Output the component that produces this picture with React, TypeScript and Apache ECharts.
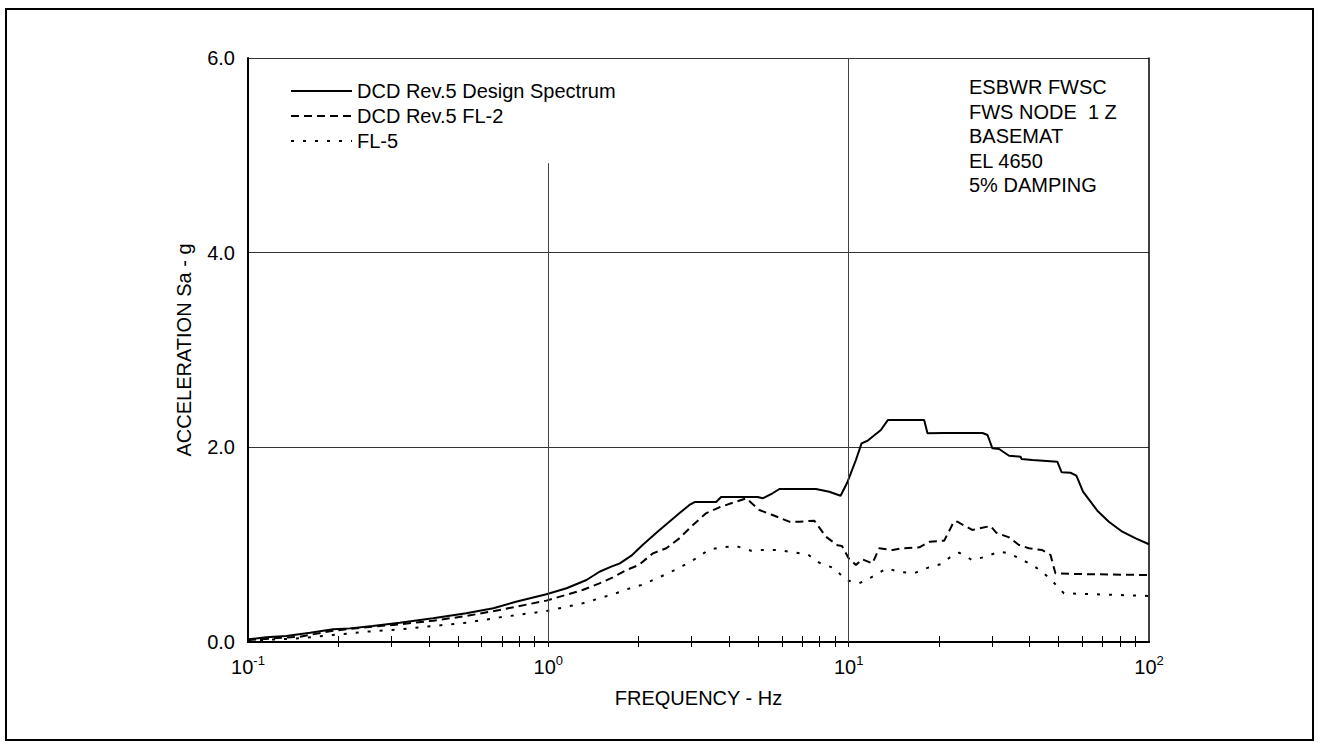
import React, { useEffect, useRef } from "react";
import * as echarts from "echarts";

const FONT = "'Liberation Sans', Arial, sans-serif";

const designFreq = [0.1, 0.115, 0.134, 0.161, 0.192, 0.218, 0.26, 0.32, 0.413, 0.533, 0.656, 0.78, 0.985, 1.15, 1.34, 1.48, 1.62, 1.73, 1.89, 2.06, 2.31, 2.73, 2.95, 3.07, 3.62, 3.76, 4.98, 5.17, 5.58, 5.88, 7.78, 8.62, 9.4, 9.92, 10.57, 11.04, 11.56, 12.8, 13.5, 17.84, 18.3, 20.8, 27.9, 29.0, 30.1, 31.7, 34.2, 37.4, 37.6, 40.9, 49.5, 51.2, 54.8, 57.3, 60.3, 67.3, 73.5, 81.5, 90.3, 100];
const designAcc = [0.028, 0.048, 0.062, 0.096, 0.13, 0.14, 0.164, 0.198, 0.243, 0.295, 0.346, 0.414, 0.49, 0.552, 0.637, 0.722, 0.774, 0.808, 0.887, 0.997, 1.133, 1.322, 1.408, 1.438, 1.438, 1.49, 1.49, 1.476, 1.528, 1.572, 1.572, 1.544, 1.503, 1.647, 1.87, 2.04, 2.068, 2.178, 2.28, 2.28, 2.144, 2.147, 2.147, 2.127, 1.99, 1.983, 1.914, 1.904, 1.88, 1.87, 1.853, 1.743, 1.739, 1.709, 1.544, 1.349, 1.236, 1.133, 1.065, 1.004];

const fl2Freq = [0.1, 0.149, 0.192, 0.248, 0.32, 0.413, 0.533, 0.688, 0.985, 1.3, 1.48, 1.64, 1.82, 2.0, 2.23, 2.47, 2.73, 3.03, 3.35, 3.71, 4.22, 4.56, 5.04, 5.58, 6.34, 6.85, 7.69, 8.4, 9.19, 9.5, 10.0, 10.57, 11.1, 12.0, 12.64, 14.0, 15.1, 17.2, 18.6, 20.8, 22.4, 23.0, 25.8, 29.7, 31.0, 34.2, 36.9, 39.8, 44.1, 47.0, 48.8, 56.9, 100];
const fl2Acc = [0.02, 0.055, 0.116, 0.151, 0.182, 0.219, 0.267, 0.329, 0.425, 0.534, 0.603, 0.664, 0.74, 0.791, 0.911, 0.963, 1.065, 1.202, 1.322, 1.384, 1.442, 1.476, 1.356, 1.305, 1.236, 1.236, 1.246, 1.082, 0.993, 0.986, 0.86, 0.791, 0.85, 0.808, 0.963, 0.945, 0.963, 0.973, 1.03, 1.041, 1.236, 1.236, 1.151, 1.192, 1.123, 1.075, 0.997, 0.963, 0.945, 0.894, 0.706, 0.699, 0.688];

const fl5Freq = [0.1, 0.149, 0.192, 0.248, 0.32, 0.413, 0.533, 0.688, 0.985, 1.3, 1.48, 1.68, 1.82, 2.04, 2.26, 2.53, 2.8, 3.11, 3.44, 3.81, 4.22, 4.73, 5.17, 5.88, 6.51, 7.3, 7.98, 8.96, 9.79, 10.85, 12.0, 13.4, 14.7, 16.5, 18.5, 20.3, 21.9, 23.3, 25.8, 28.6, 31.7, 34.2, 36.9, 40.9, 44.1, 47.9, 52.1, 100];
const fl5Acc = [0.014, 0.038, 0.072, 0.106, 0.13, 0.164, 0.198, 0.253, 0.318, 0.397, 0.449, 0.5, 0.541, 0.586, 0.644, 0.712, 0.781, 0.86, 0.952, 0.973, 0.986, 0.938, 0.945, 0.945, 0.921, 0.901, 0.815, 0.757, 0.637, 0.603, 0.671, 0.757, 0.722, 0.706, 0.767, 0.801, 0.877, 0.918, 0.842, 0.877, 0.928, 0.911, 0.86, 0.791, 0.722, 0.619, 0.5, 0.473];

const seriesNames = ["DCD Rev.5 Design Spectrum", "DCD Rev.5 FL-2", "FL-5"];
const xMajorTicks = [0.1, 1, 10, 100];
const xMinorTicks = [0.2, 0.3, 0.4, 0.5, 0.6, 0.7, 0.8, 0.9, 1, 2, 3, 4, 5, 6, 7, 8, 9, 10, 20, 30, 40, 50, 60, 70, 80, 90];
const annotationLines = ["ESBWR FWSC", "FWS NODE  1 Z", "BASEMAT", "EL 4650", "5% DAMPING"];
// top of the 1 Hz grid line (the legend box hides the part above it)
const LEGEND_BOX_BOTTOM_G = 4.92;

const pairs = (xs: number[], ys: number[]) => xs.map((x, i) => [x, ys[i]]);

export default function App() {
  const ref = useRef<HTMLDivElement>(null);
  useEffect(() => {
    if (!ref.current) return;
    const chart = echarts.init(ref.current, null, { renderer: "svg" });
    const expFormatter = (v: number) => {
      const e = Math.round(Math.log10(v));
      return "{b|10}{s|" + e + "}";
    };
    chart.setOption({
      animation: false,
      backgroundColor: "#fff",
      textStyle: { fontFamily: FONT },
      grid: { left: 248, top: 58, width: 901, height: 584, containLabel: false },
      legend: {
        orient: "vertical",
        left: 285,
        top: 76,
        itemWidth: 61,
        itemHeight: 10,
        itemGap: 5,
        selectedMode: false,
        itemStyle: { opacity: 0 },
        textStyle: { fontSize: 20, color: "#000", fontFamily: FONT },
        data: seriesNames,
      },
      xAxis: [
        {
          type: "log",
          logBase: 10,
          min: 0.1,
          max: 100,
          position: "bottom",
          axisLine: { show: true, lineStyle: { color: "#000", width: 2 } },
          axisTick: { show: true, inside: true, length: 6, customValues: xMinorTicks, lineStyle: { color: "#000", width: 1 } },
          axisLabel: {
            customValues: xMajorTicks,
            formatter: expFormatter,
            margin: 12,
            rich: {
              b: { fontSize: 20, color: "#000", fontFamily: FONT },
              s: { fontSize: 13, color: "#000", fontFamily: FONT, padding: [0, 0, 12, 0] },
            },
          },
          splitLine: { show: false },
          name: "FREQUENCY - Hz",
          nameLocation: "middle",
          nameGap: 46,
          nameTextStyle: { fontSize: 20, color: "#000", fontFamily: FONT },
        },
        {
          type: "log",
          logBase: 10,
          min: 0.1,
          max: 100,
          position: "top",
          axisLine: { show: true, lineStyle: { color: "#000", width: 1.5 } },
          axisTick: { show: true, inside: true, length: 5, customValues: xMinorTicks, lineStyle: { color: "#000", width: 1 } },
          axisLabel: { show: false },
          splitLine: { show: false },
        },
      ],
      yAxis: [
        {
          type: "value",
          min: 0,
          max: 6,
          interval: 2,
          position: "left",
          axisLine: { show: true, lineStyle: { color: "#000", width: 2 } },
          axisTick: { show: false },
          axisLabel: { formatter: (v: number) => v.toFixed(1), fontSize: 20, color: "#000", margin: 13, fontFamily: FONT },
          splitLine: { show: true, lineStyle: { color: "#333", width: 1 } },
          name: "ACCELERATION Sa - g",
          nameLocation: "middle",
          nameGap: 54,
          nameRotate: 90,
          nameTextStyle: { fontSize: 20, color: "#000", fontFamily: FONT },
        },
        {
          type: "value",
          min: 0,
          max: 6,
          interval: 2,
          position: "right",
          axisLine: { show: true, lineStyle: { color: "#000", width: 1.5 } },
          axisTick: { show: false },
          axisLabel: { show: false },
          splitLine: { show: false },
        },
      ],
      series: [
        {
          name: "grid-lines",
          type: "line",
          data: [],
          silent: true,
          z: 1,
          markLine: {
            silent: true,
            symbol: "none",
            label: { show: false },
            lineStyle: { color: "#444", width: 1, type: "solid" },
            data: [
              [{ coord: [1, 0] }, { coord: [1, LEGEND_BOX_BOTTOM_G] }],
              { xAxis: 10 },
            ],
          },
        },
        {
          name: seriesNames[0],
          type: "line",
          data: pairs(designFreq, designAcc),
          symbol: "none",
          z: 3,
          lineStyle: { color: "#000", width: 2, type: "solid" },
          itemStyle: { color: "#000" },
        },
        {
          name: seriesNames[1],
          type: "line",
          data: pairs(fl2Freq, fl2Acc),
          symbol: "none",
          z: 3,
          lineStyle: { color: "#000", width: 2, type: [8, 5] },
          itemStyle: { color: "#000" },
        },
        {
          name: seriesNames[2],
          type: "line",
          data: pairs(fl5Freq, fl5Acc),
          symbol: "none",
          z: 3,
          lineStyle: { color: "#000", width: 2, type: [3, 9] },
          itemStyle: { color: "#000" },
        },
      ],
      graphic: [
        {
          type: "rect",
          shape: { x: 6, y: 9, width: 1307, height: 731 },
          style: { fill: "none", stroke: "#000", lineWidth: 2 },
          silent: true,
        },
        ...annotationLines.map((t, i) => ({
          type: "text",
          x: 969,
          y: 87 + i * 24.5,
          style: { text: t, fontSize: 20, fill: "#000", fontFamily: FONT, verticalAlign: "middle" },
          silent: true,
        })),
      ],
    });
    return () => chart.dispose();
  }, []);
  return <div ref={ref} style={{ position: "absolute", left: 0, top: 0, width: 1318, height: 744 }} />;
}
